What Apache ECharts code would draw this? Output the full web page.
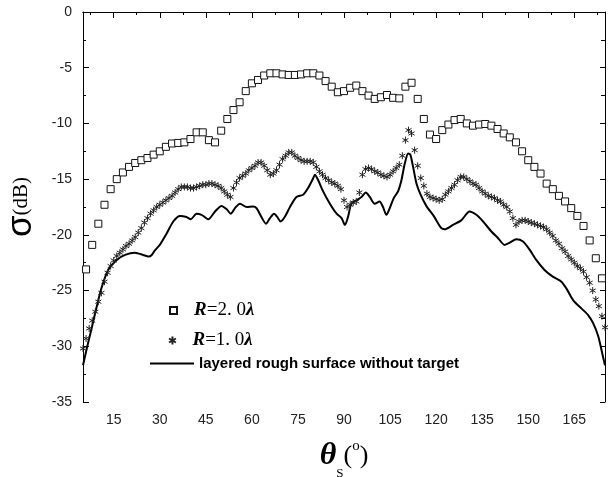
<!DOCTYPE html>
<html>
<head>
<meta charset="utf-8">
<script src="https://cdn.jsdelivr.net/npm/echarts@6/dist/echarts.min.js"></script>
<style>html,body{margin:0;padding:0;background:#fff;}#c{width:611px;height:477px;}</style>
</head>
<body>
<div id="c"></div>
<script>
// ---- data ----
const xMajorTicks = [15, 30, 45, 60, 75, 90, 105, 120, 135, 150, 165];
const xMinorTicks = [7.5, 22.5, 37.5, 52.5, 67.5, 82.5, 97.5, 112.5, 127.5, 142.5, 157.5, 172.5];

// R = 2.0 lambda (squares)
const sqX = [6,8,10,12,14,16,18,20,22,24,26,28,30,32,34,36,38,40,42,44,46,48,50,52,54,56,58,60,62,64,66,68,70,72,74,76,78,80,82,84,86,88,90,92,94,96,98,100,102,104,106,108,110,112,114,116,118,120,122,124,126,128,130,132,134,136,138,140,142,144,146,148,150,152,154,156,158,160,162,164,166,168,170,172,174];
const sqY = [-23.1,-20.9,-19.0,-17.3,-15.9,-15.0,-14.4,-13.9,-13.55,-13.3,-13.1,-12.8,-12.5,-12.1,-11.8,-11.75,-11.7,-11.4,-10.8,-10.8,-11.5,-11.7,-10.65,-9.6,-8.8,-8.1,-7.1,-6.4,-6.1,-5.7,-5.5,-5.5,-5.6,-5.65,-5.65,-5.6,-5.5,-5.5,-5.7,-6.2,-6.7,-7.2,-7.1,-6.8,-6.6,-7.1,-7.5,-7.8,-7.65,-7.45,-7.7,-7.75,-6.7,-6.35,-7.8,-9.6,-11.0,-11.4,-10.6,-10.1,-9.7,-9.6,-10.0,-10.2,-10.1,-10.05,-10.2,-10.5,-10.9,-11.25,-11.7,-12.5,-13.3,-13.9,-14.5,-15.4,-15.9,-16.5,-17.0,-17.6,-18.3,-19.2,-20.5,-22.1,-23.9];

// R = 1.0 lambda (stars), one per degree from 5 to 175
const stX = [5,6,7,8,9,10,11,12,13,14,15,16,17,18,19,20,21,22,23,24,25,26,27,28,29,30,31,32,33,34,35,36,37,38,39,40,41,42,43,44,45,46,47,48,49,50,51,52,53,54,55,56,57,58,59,60,61,62,63,64,65,66,67,68,69,70,71,72,73,74,75,76,77,78,79,80,81,82,83,84,85,86,87,88,89,90,91,92,93,94,95,96,97,98,99,100,101,102,103,104,105,106,107,108,109,110,111,112,113,114,115,116,117,118,119,120,121,122,123,124,125,126,127,128,129,130,131,132,133,134,135,136,137,138,139,140,141,142,143,144,145,146,147,148,149,150,151,152,153,154,155,156,157,158,159,160,161,162,163,164,165,166,167,168,169,170,171,172,173,174,175];
const stY = [-30.2,-29.3,-28.4,-27.7,-26.9,-26.0,-25.2,-24.2,-23.4,-22.8,-22.3,-21.9,-21.6,-21.3,-21.0,-20.8,-20.5,-20.2,-19.8,-19.4,-18.9,-18.5,-18.1,-17.8,-17.5,-17.3,-17.1,-16.9,-16.7,-16.5,-16.2,-15.9,-15.7,-15.7,-15.7,-15.8,-15.8,-15.7,-15.6,-15.5,-15.5,-15.4,-15.4,-15.5,-15.6,-15.8,-16.1,-16.4,-16.6,-15.8,-15.3,-14.9,-14.7,-14.5,-14.2,-14.0,-13.8,-13.5,-13.5,-13.8,-14.2,-14.6,-14.5,-14.2,-13.7,-13.2,-12.9,-12.6,-12.6,-12.9,-13.1,-13.3,-13.4,-13.4,-13.4,-13.5,-13.9,-14.3,-14.6,-14.9,-15.1,-15.3,-15.4,-15.6,-15.9,-16.9,-17.5,-17.3,-17.1,-17.0,-16.2,-14.6,-14.1,-14.0,-14.1,-14.3,-14.4,-14.6,-14.7,-14.8,-14.6,-14.3,-14.0,-13.7,-12.9,-11.5,-10.6,-10.9,-12.4,-13.8,-14.9,-15.6,-16.3,-16.6,-16.7,-16.8,-16.9,-16.8,-16.4,-16.1,-15.8,-15.5,-15.1,-14.8,-14.8,-15.0,-15.2,-15.4,-15.5,-15.8,-16.1,-16.3,-16.5,-16.6,-16.7,-16.9,-17.0,-17.3,-17.5,-17.9,-18.5,-19.1,-18.8,-18.7,-18.7,-18.8,-18.9,-19.0,-19.1,-19.2,-19.3,-19.5,-19.8,-20.1,-20.5,-20.8,-21.2,-21.5,-21.9,-22.2,-22.5,-22.8,-23.0,-23.3,-23.8,-24.3,-25.0,-25.8,-26.4,-27.3,-28.3];

// layered rough surface without target (line)
const lnX = [5,6.4,7.8,9.5,11.1,13.2,16,18.7,21.9,24.6,26.3,27.4,28.4,30,32.2,34.4,36.6,38.7,40.1,42,43.6,45.8,48,50.1,51.8,53.1,54.5,56.1,58.3,60.4,61.5,63.1,64.6,65.9,67.2,68.3,69.3,70.7,72.4,74.5,76.7,78.3,80,80.5,81.6,83.2,85.4,87.6,89.2,90.3,91.3,92.4,94.1,95.7,97.1,98.4,100,101.6,102.7,103.8,104.9,106.2,107.6,108.7,109.8,110.9,111.6,112.5,113.6,114.8,116.8,119.2,121.7,122.8,125.5,128.2,130.9,133.1,135.3,138,140.2,142.3,144,146.1,148.3,150.5,152.6,155.3,158,160.8,162.4,164.6,167.3,169.5,171.1,172.8,174.4,175];
const lnY = [-31.7,-30.0,-28.4,-26.4,-24.7,-23.15,-22.25,-21.8,-21.6,-21.8,-21.95,-21.8,-21.4,-20.9,-19.9,-18.8,-18.3,-18.4,-18.6,-18.1,-18.2,-18.6,-17.9,-17.4,-17.7,-18.1,-17.6,-17.2,-17.5,-17.45,-17.6,-18.4,-19.0,-18.5,-18.1,-18.4,-18.8,-18.4,-17.5,-16.6,-16.4,-15.8,-14.9,-14.6,-15.1,-16.1,-17.2,-18.1,-18.5,-19.1,-18.4,-17.2,-16.9,-16.6,-16.2,-16.6,-17.2,-17.0,-17.5,-18.2,-17.6,-16.7,-16.1,-15.1,-13.6,-12.7,-12.8,-13.9,-15.4,-16.3,-17.4,-18.3,-19.4,-19.5,-19.1,-18.7,-17.9,-18.2,-18.8,-19.7,-20.3,-20.9,-20.7,-20.4,-20.6,-21.35,-22.25,-23.15,-23.75,-24.2,-24.8,-25.85,-26.6,-27.2,-27.9,-29.1,-31.0,-31.7];

const seriesNames = ['R=2.0\u03bb', 'R=1.0\u03bb', 'layered rough surface without target'];

// ---- chart ----
const pair = (xs, ys) => xs.map((x, i) => [x, ys[i]]);
const black = '#000';
const tickStyle = { color: black, width: 1 };
const labelFont = { fontFamily: 'Liberation Sans', fontSize: 14, color: '#222' };
const starPath = 'path://M5 0 L5 10 M0.67 2.5 L9.33 7.5 M0.67 7.5 L9.33 2.5';

const chart = echarts.init(document.getElementById('c'), null, { renderer: 'canvas' });
const baseX = { type: 'value', min: 5, max: 175, splitLine: { show: false } };
const baseY = { type: 'value', min: -35, max: 0, interval: 5, splitLine: { show: false } };

const rLegendRich = {
  i: { fontFamily: 'Liberation Serif', fontSize: 19, fontStyle: 'italic', fontWeight: 'bold', color: black },
  n: { fontFamily: 'Liberation Serif', fontSize: 19, color: black },
  l: { fontFamily: 'Liberation Serif', fontSize: 19, fontStyle: 'italic', fontWeight: 'bold', color: black }
};
const rFormatter = function (name) {
  if (name === seriesNames[0]) return '{i|R}{n|=2. 0}{l|\u03bb}';
  if (name === seriesNames[1]) return '{i|R}{n|=1. 0}{l|\u03bb}';
  return name;
};

chart.setOption({
  animation: false,
  backgroundColor: '#fff',
  grid: { left: 83, right: 6, top: 12, bottom: 75, containLabel: false, outerBoundsMode: 'none' },
  legend: [
    { data: [seriesNames[0]], left: 164, top: 296, itemWidth: 7, itemHeight: 7, itemGap: 0,
      formatter: rFormatter, textStyle: { rich: rLegendRich, padding: [0, 0, 0, 12] } },
    { data: [seriesNames[1]], left: 163, top: 326, itemWidth: 8, itemHeight: 8, itemGap: 0,
      formatter: rFormatter, textStyle: { rich: rLegendRich, padding: [0, 0, 0, 11] } },
    { data: [{ name: seriesNames[2], icon: 'rect' }], left: 145, top: 351, itemWidth: 44, itemHeight: 2, itemGap: 0,
      textStyle: { fontFamily: 'Liberation Sans', fontSize: 15, fontWeight: 'bold', color: black } }
  ],
  xAxis: [
    Object.assign({}, baseX, {
      position: 'bottom',
      axisLine: { show: true, lineStyle: tickStyle },
      axisTick: { show: true, inside: false, length: 6, customValues: xMajorTicks, lineStyle: tickStyle },
      axisLabel: Object.assign({ show: true, margin: 11, customValues: xMajorTicks }, labelFont),
      name: '{t|\u03b8}{s|S}{p|(}{o|o}{p|)}',
      nameLocation: 'middle',
      nameGap: 30,
      nameTextStyle: {
        rich: {
          t: { fontFamily: 'Liberation Serif', fontSize: 32, fontStyle: 'italic', fontWeight: 'bold', color: black, lineHeight: 48, verticalAlign: 'middle' },
          s: { fontFamily: 'Liberation Serif', fontSize: 13, color: black, verticalAlign: 'bottom' },
          p: { fontFamily: 'Liberation Serif', fontSize: 26, color: black, verticalAlign: 'middle' },
          o: { fontFamily: 'Liberation Serif', fontSize: 15, color: black, verticalAlign: 'top', padding: [7, 0, 0, 0] }
        }
      }
    }),
    Object.assign({}, baseX, {
      position: 'bottom',
      axisLine: { show: false },
      axisTick: { show: true, inside: false, length: 3, customValues: xMinorTicks, lineStyle: tickStyle },
      axisLabel: { show: false, customValues: xMinorTicks }
    }),
    Object.assign({}, baseX, {
      position: 'top',
      axisLine: { show: true, lineStyle: tickStyle },
      axisTick: { show: true, inside: true, length: 6, customValues: xMajorTicks, lineStyle: tickStyle },
      axisLabel: { show: false, customValues: xMajorTicks }
    }),
    Object.assign({}, baseX, {
      position: 'top',
      axisLine: { show: false },
      axisTick: { show: true, inside: true, length: 3, customValues: xMinorTicks, lineStyle: tickStyle },
      axisLabel: { show: false, customValues: xMinorTicks }
    })
  ],
  yAxis: [
    Object.assign({}, baseY, {
      position: 'left',
      axisLine: { show: true, lineStyle: tickStyle },
      axisTick: { show: true, inside: true, length: 6, lineStyle: tickStyle },
      minorTick: { show: true, splitNumber: 2, length: 3, lineStyle: tickStyle },
      minorSplitLine: { show: false },
      axisLabel: Object.assign({ show: true, margin: 11 }, labelFont),
      name: '{s|\u03c3}{d|(dB)}',
      nameLocation: 'middle',
      nameRotate: 90,
      nameGap: 44,
      nameTextStyle: {
        rich: {
          s: { fontFamily: 'Liberation Sans', fontSize: 35, color: black },
          d: { fontFamily: 'Liberation Serif', fontSize: 21, color: black }
        }
      }
    }),
    Object.assign({}, baseY, {
      position: 'right',
      axisLine: { show: true, lineStyle: tickStyle },
      axisTick: { show: true, inside: true, length: 5, lineStyle: tickStyle },
      minorTick: { show: true, splitNumber: 2, length: 4, lineStyle: tickStyle },
      axisLabel: { show: false }
    })
  ],
  series: [
    {
      name: seriesNames[0], type: 'scatter', data: pair(sqX, sqY),
      symbol: 'rect', symbolSize: 7, symbolKeepAspect: true,
      itemStyle: { color: '#fff', borderColor: '#111', borderWidth: 1, opacity: 1 },
      z: 3
    },
    {
      name: seriesNames[1], type: 'scatter', data: pair(stX, stY),
      symbol: starPath, symbolSize: 7, symbolKeepAspect: true,
      itemStyle: { color: '#222', borderColor: '#222', borderWidth: 1, opacity: 1 },
      z: 4
    },
    {
      name: seriesNames[2], type: 'line', data: pair(lnX, lnY),
      showSymbol: false, symbol: 'none', smooth: 0.25,
      lineStyle: { color: black, width: 2 }, itemStyle: { color: black },
      z: 2
    }
  ]
});
</script>
</body>
</html>
